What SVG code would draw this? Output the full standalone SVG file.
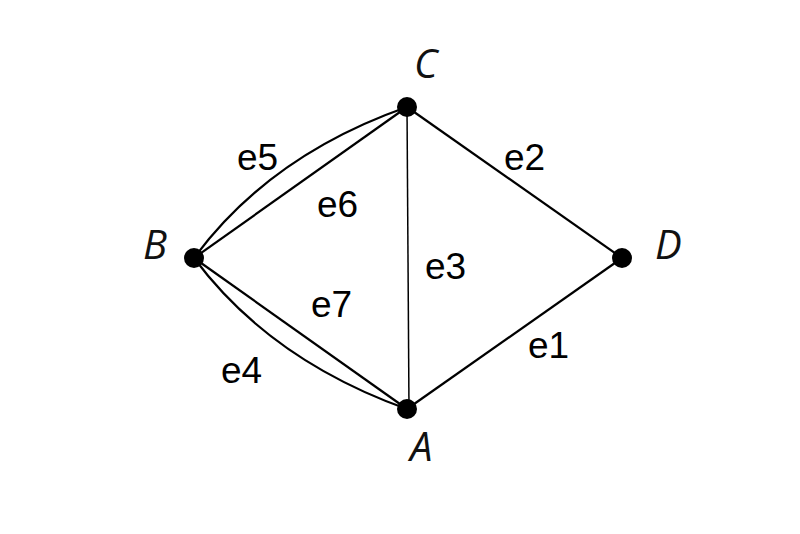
<svg xmlns="http://www.w3.org/2000/svg" width="800" height="534" viewBox="0 0 800 534">
<style>
.e{stroke:#000;stroke-width:2.2;fill:none}
.n{fill:#000}
.v{font-family:"Open Sans","DejaVu Sans",sans-serif;font-style:italic;font-size:40px;fill:#111}
.l{font-family:"Liberation Sans",Arial,sans-serif;font-size:37px;fill:#000}
</style>
<rect width="800" height="534" fill="#fff"/>
<g id="connectors">
<path class="e" d="M407,107 L622,258"/>
<path class="e" d="M407,409 L622,258"/>
<path class="e" style="stroke-width:1.5" d="M407,107 L409,409"/>
<path class="e" d="M194,258 L407,107"/>
<path class="e" d="M194,258 Q270,155 407,107"/>
<path class="e" d="M194,258 L407,409"/>
<path class="e" d="M194,258 Q270,360 407,409"/>
</g>
<g id="C"><circle class="n" cx="407" cy="107" r="10"/><text class="v" x="414" y="78">C</text></g>
<g id="B"><circle class="n" cx="194" cy="258" r="10"/><text class="v" x="143" y="259">B</text></g>
<g id="D"><circle class="n" cx="622" cy="258" r="10"/><text class="v" x="655" y="259">D</text></g>
<g id="A"><circle class="n" cx="407" cy="409" r="10"/><text class="v" x="410" y="461">A</text></g>
<g id="labels">
<text class="l" x="237" y="170">e5</text>
<text class="l" x="317" y="217">e6</text>
<text class="l" x="504" y="170">e2</text>
<text class="l" x="425" y="279">e3</text>
<text class="l" x="311" y="317">e7</text>
<text class="l" x="221" y="383">e4</text>
<text class="l" x="528" y="358">e1</text>
</g>
</svg>
